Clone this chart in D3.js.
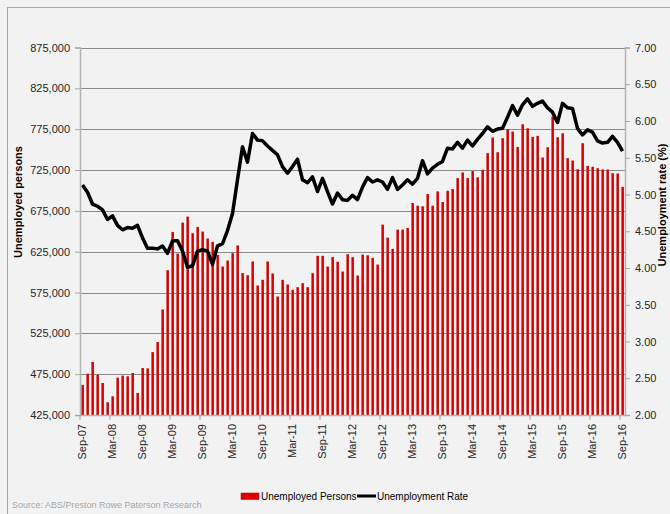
<!DOCTYPE html>
<html>
<head>
<meta charset="utf-8">
<script src="https://cdn.jsdelivr.net/npm/d3@7"></script>
<style>
  html, body { margin: 0; padding: 0; background: #f2f2f2; }
  svg { display: block; font-family: "Liberation Sans", Arial, sans-serif; }
  .narrow { font-family: "Liberation Sans Narrow", "Arial Narrow", "Liberation Sans", sans-serif; }
</style>
</head>
<body>
<svg id="chart" width="670" height="514"></svg>
<script>
// DATA
// monthly, Sep-07 .. Sep-16
const startMonth = new Date(2007, 8, 1);
const endMonth = new Date(2016, 9, 1);

const unemployedPersons = [
  461800, 475600, 489900, 474400, 464200, 440600, 447900, 470700, 473200, 472400, 476400, 452000,
  482500, 482100, 502000, 514300, 554200, 602300, 649200, 622700, 660600, 667900, 647600, 655300,
  649600, 641100, 637000, 621100, 606800, 614200, 623200, 632600, 598700, 596200, 613000, 583600,
  590500, 613000, 598300, 570100, 590500, 584800, 578300, 581500, 586400, 581500, 598700, 619900,
  619900, 606800, 618300, 612600, 600700, 621900, 618300, 595800, 621400, 620600, 617400, 609200,
  658100, 642200, 628400, 652000, 652000, 654000, 684600, 681300, 680500, 695600, 681300, 698800,
  685800, 699600, 701700, 715100, 722000, 715100, 723700, 716000, 725300, 745700, 764800, 746800,
  763900, 774900, 772000, 753300, 781000, 776100, 765500, 766800, 740300, 752900, 790400, 765100,
  770000, 739500, 736600, 726000, 757800, 730100, 728900, 727200, 725600, 725600, 721100, 720700,
  704400
];

const unemploymentRate = [
  5.13, 5.03, 4.87, 4.84, 4.79, 4.66, 4.71, 4.58, 4.52, 4.55, 4.54, 4.58,
  4.41, 4.27, 4.27, 4.26, 4.30, 4.20, 4.37, 4.37, 4.23, 4.01, 4.03, 4.23,
  4.25, 4.23, 4.05, 4.30, 4.33, 4.51, 4.74, 5.20, 5.65, 5.44, 5.83, 5.74,
  5.73, 5.66, 5.60, 5.54, 5.38, 5.29, 5.38, 5.48, 5.20, 5.16, 5.24, 5.04,
  5.22, 5.04, 4.87, 5.02, 4.93, 4.92, 4.99, 4.93, 5.10, 5.23, 5.17, 5.20,
  5.17, 5.07, 5.23, 5.07, 5.13, 5.20, 5.14, 5.22, 5.46, 5.28, 5.36, 5.41,
  5.45, 5.63, 5.62, 5.71, 5.63, 5.74, 5.66, 5.75, 5.83, 5.92, 5.86, 5.89,
  5.90, 6.05, 6.21, 6.08, 6.22, 6.30, 6.20, 6.24, 6.27, 6.18, 6.12, 5.98,
  6.24, 6.18, 6.17, 5.90, 5.81, 5.88, 5.85, 5.73, 5.70, 5.71, 5.79, 5.71,
  5.59
];

const tickLabels = ["Sep-07", "Mar-08", "Sep-08", "Mar-09", "Sep-09", "Mar-10", "Sep-10", "Mar-11",
  "Sep-11", "Mar-12", "Sep-12", "Mar-13", "Sep-13", "Mar-14", "Sep-14", "Mar-15", "Sep-15", "Mar-16", "Sep-16"];

const leftTicks = [425000, 475000, 525000, 575000, 625000, 675000, 725000, 775000, 825000, 875000];
const rightTicks = [2.0, 2.5, 3.0, 3.5, 4.0, 4.5, 5.0, 5.5, 6.0, 6.5, 7.0];

// CHART
const fmtMonth = d3.timeFormat("%b-%y");
const months = d3.timeMonth.range(startMonth, endMonth).map(fmtMonth);

const plot = {left: 80, right: 625, top: 47.5, bottom: 415};

const svg = d3.select("#chart");

// outer frame
svg.append("rect")
  .attr("x", 7.5).attr("y", 7.5).attr("width", 700).attr("height", 540)
  .attr("fill", "#f2f2f2").attr("stroke", "#a6a6a6");

const x = d3.scaleBand()
  .domain(months)
  .range([plot.left, plot.right])
  .paddingInner(0.45)
  .paddingOuter(0.225);

const yL = d3.scaleLinear().domain([425000, 875000]).range([plot.bottom, plot.top]);
const yR = d3.scaleLinear().domain([2, 7]).range([plot.bottom, plot.top]);

// bar gradient
const defs = svg.append("defs");
const grad = defs.append("linearGradient").attr("id", "barGrad")
  .attr("x1", "0%").attr("x2", "100%").attr("y1", "0%").attr("y2", "0%");
grad.append("stop").attr("offset", "0%").attr("stop-color", "#e87070");
grad.append("stop").attr("offset", "45%").attr("stop-color", "#e00000");
grad.append("stop").attr("offset", "100%").attr("stop-color", "#a80000");

// gridlines
svg.append("g")
  .selectAll("line")
  .data(leftTicks.slice(1))
  .join("line")
  .attr("x1", plot.left).attr("x2", plot.right)
  .attr("y1", d => Math.round(yL(d)) + 0.5).attr("y2", d => Math.round(yL(d)) + 0.5)
  .attr("stroke", "#8a8a8a").attr("stroke-width", 1);

// bars
svg.append("g")
  .selectAll("rect")
  .data(unemployedPersons)
  .join("rect")
  .attr("x", (d, i) => x(months[i]))
  .attr("width", x.bandwidth())
  .attr("y", d => yL(d))
  .attr("height", d => plot.bottom - yL(d))
  .attr("fill", "url(#barGrad)");

// rate line
const line = d3.line()
  .x((d, i) => x(months[i]) + x.bandwidth() / 2)
  .y(d => yR(d));

svg.append("path")
  .datum(unemploymentRate)
  .attr("d", line)
  .attr("fill", "none")
  .attr("stroke", "#000")
  .attr("stroke-width", 3.5)
  .attr("stroke-linejoin", "round");

// left axis
const gL = svg.append("g")
  .attr("transform", `translate(${plot.left},0)`)
  .call(d3.axisLeft(yL).tickValues(leftTicks).tickFormat(d3.format(",")).tickSize(5).tickPadding(5));

// right axis
const gR = svg.append("g")
  .attr("transform", `translate(${plot.right},0)`)
  .call(d3.axisRight(yR).tickValues(rightTicks).tickFormat(d3.format(".2f")).tickSize(5).tickPadding(5));

// bottom axis: labels at band centres, ticks at band edges
const labelMonths = months.filter((m, i) => i % 6 === 0);
const gB = svg.append("g")
  .attr("transform", `translate(0,${plot.bottom})`)
  .call(d3.axisBottom(x).tickValues(labelMonths).tickFormat((d, i) => tickLabels[i]).tickSize(0));

gB.selectAll("text")
  .attr("transform", "rotate(-90)")
  .attr("x", -9)
  .attr("y", 0)
  .attr("dy", "0.35em")
  .attr("text-anchor", "end");

const edgeOffset = (x.step() - x.bandwidth()) / 2;
gB.selectAll(".edge-tick")
  .data(labelMonths)
  .join("line")
  .attr("class", "edge-tick")
  .attr("x1", d => x(d) - edgeOffset).attr("x2", d => x(d) - edgeOffset)
  .attr("y1", 0).attr("y2", 5)
  .attr("stroke", "#a6a6a6");

[gL, gR, gB].forEach(g => {
  g.select(".domain").attr("stroke", "#b3b3b3").attr("stroke-width", 1.5);
  g.selectAll(".tick line").attr("stroke", "#a6a6a6");
  g.selectAll("text").attr("font-size", 11).attr("fill", "#262626")
    .attr("font-family", '"Liberation Sans", Arial, sans-serif');
});

// axis titles
svg.append("text")
  .attr("transform", "translate(22,202) rotate(-90)")
  .attr("text-anchor", "middle")
  .attr("font-size", 11).attr("font-weight", "bold").attr("fill", "#000")
  .text("Unemployed persons");

svg.append("text")
  .attr("transform", "translate(666,205) rotate(-90)")
  .attr("text-anchor", "middle")
  .attr("font-size", 11).attr("font-weight", "bold").attr("fill", "#000")
  .text("Unemployment rate (%)");

// legend
const legend = svg.append("g").attr("class", "narrow");
legend.append("rect")
  .attr("x", 241).attr("y", 493).attr("width", 18).attr("height", 6.5)
  .attr("fill", "#e00000").attr("stroke", "#b00000").attr("stroke-width", 0.5);
legend.append("text")
  .attr("x", 261).attr("y", 499.5)
  .attr("font-size", 10).attr("fill", "#000")
  .text("Unemployed Persons");
legend.append("line")
  .attr("x1", 357).attr("x2", 376).attr("y1", 496).attr("y2", 496)
  .attr("stroke", "#000").attr("stroke-width", 3);
legend.append("text")
  .attr("x", 377).attr("y", 499.5)
  .attr("font-size", 10).attr("fill", "#000")
  .text("Unemployment Rate");

// source
svg.append("text")
  .attr("class", "narrow")
  .attr("x", 12).attr("y", 508)
  .attr("font-size", 9).attr("fill", "#a6a6a6")
  .text("Source: ABS/Preston Rowe Paterson Research");
</script>
</body>
</html>
